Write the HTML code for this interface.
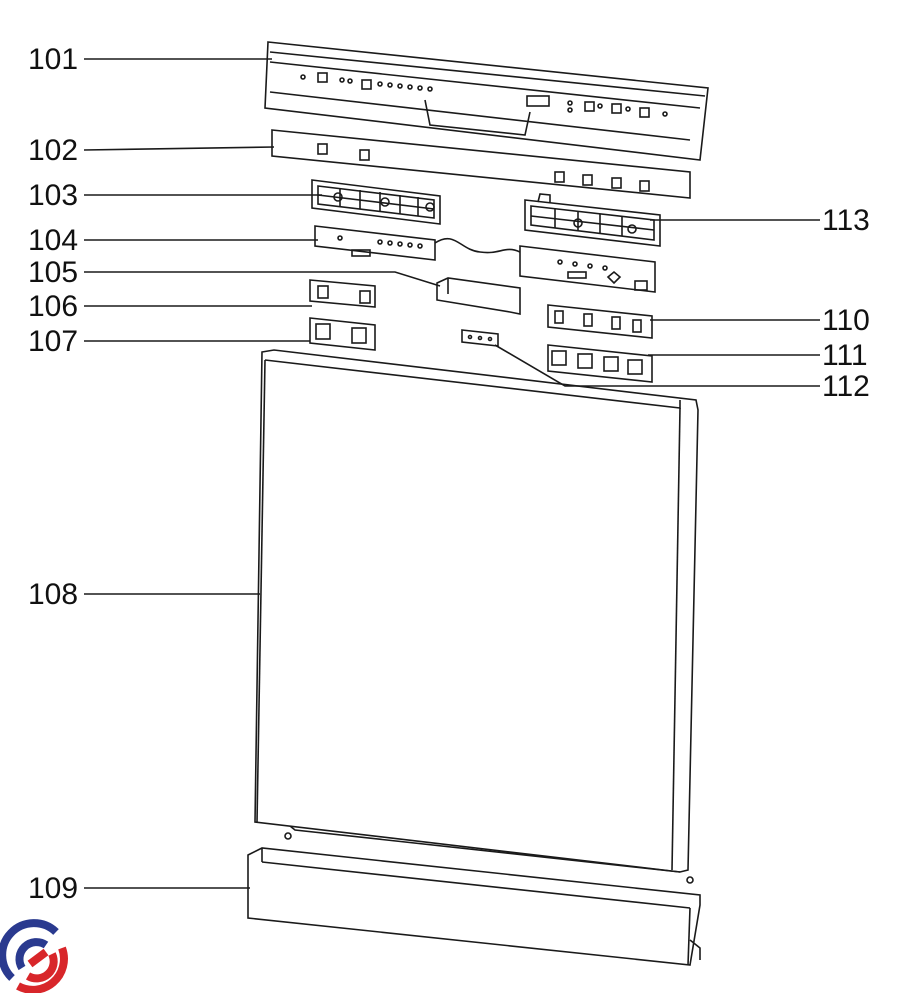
<!DOCTYPE html>
<html><head><meta charset="utf-8"><style>
html,body{margin:0;padding:0;background:#fff;}
svg{display:block;}
text{font-family:"Liberation Sans",sans-serif;font-size:30px;fill:#111;}
</style></head><body>
<svg width="897" height="993" viewBox="0 0 897 993" xmlns="http://www.w3.org/2000/svg">
<g stroke="#1a1a1a" stroke-width="1.6" fill="none">
<line x1="84" y1="59" x2="272" y2="59"/>
<line x1="84" y1="150" x2="274" y2="147"/>
<line x1="84" y1="195" x2="322" y2="195"/>
<line x1="84" y1="240" x2="318" y2="240"/>
<polyline points="84,272 395,272 440,286"/>
<line x1="84" y1="306" x2="312" y2="306"/>
<line x1="84" y1="341" x2="310" y2="341"/>
<line x1="84" y1="594" x2="260" y2="594"/>
<line x1="84" y1="888" x2="250" y2="888"/>
<line x1="820" y1="220" x2="650" y2="220"/>
<line x1="820" y1="320" x2="650" y2="320"/>
<line x1="820" y1="355" x2="648" y2="355"/>
<polyline points="820,386 565,386 495,345"/>

<polygon points="268,42 708,88 700,160 265,108"/>
<polyline points="270,52 705,96"/>
<polyline points="270,62 700,108"/>
<polyline points="270,92 690,140"/>
<polyline points="425,100 430,125 525,135 530,112"/>
<rect x="318" y="73" width="9" height="9"/><rect x="362" y="80" width="9" height="9"/>
<rect x="527" y="96" width="22" height="10"/><rect x="585" y="102" width="9" height="9"/>
<rect x="612" y="104" width="9" height="9"/><rect x="640" y="108" width="9" height="9"/>
<circle cx="303" cy="77" r="2"/><circle cx="342" cy="80" r="2"/><circle cx="350" cy="81" r="2"/>
<circle cx="380" cy="84" r="2"/><circle cx="390" cy="85" r="2"/><circle cx="400" cy="86" r="2"/><circle cx="410" cy="87" r="2"/><circle cx="420" cy="88" r="2"/><circle cx="430" cy="89" r="2"/>
<circle cx="570" cy="103" r="2"/><circle cx="570" cy="110" r="2"/><circle cx="600" cy="106" r="2"/><circle cx="628" cy="109" r="2"/><circle cx="665" cy="114" r="2"/>
<polygon points="272,130 690,172 690,198 272,156"/>
<rect x="318" y="144" width="9" height="10"/><rect x="360" y="150" width="9" height="10"/>
<rect x="555" y="172" width="9" height="10"/><rect x="583" y="175" width="9" height="10"/><rect x="612" y="178" width="9" height="10"/><rect x="640" y="181" width="9" height="10"/>
<polygon points="312,180 440,196 440,224 312,208"/>
<polygon points="318,186 434,200 434,218 318,204"/>
<line x1="340" y1="188" x2="340" y2="206"/><line x1="360" y1="190" x2="360" y2="209"/><line x1="380" y1="192" x2="380" y2="211"/><line x1="400" y1="195" x2="400" y2="214"/><line x1="418" y1="197" x2="418" y2="216"/>
<line x1="318" y1="195" x2="434" y2="209"/>
<circle cx="338" cy="197" r="4"/><circle cx="385" cy="202" r="4"/><circle cx="430" cy="207" r="4"/>
<polygon points="525,200 660,215 660,246 525,230"/>
<polygon points="531,206 654,220 654,240 531,225"/>
<line x1="555" y1="209" x2="555" y2="228"/><line x1="578" y1="211" x2="578" y2="231"/><line x1="600" y1="214" x2="600" y2="233"/><line x1="622" y1="216" x2="622" y2="236"/>
<line x1="531" y1="216" x2="654" y2="230"/>
<polyline points="538,202 540,194 550,195 550,203"/>
<circle cx="578" cy="223" r="4"/><circle cx="632" cy="229" r="4"/>
<polygon points="315,226 435,240 435,260 315,246"/>
<polygon points="520,246 655,262 655,292 520,276"/>
<path d="M435,243 C455,230 460,250 480,252 C500,255 505,245 520,252"/>
<rect x="352" y="250" width="18" height="6"/><rect x="568" y="272" width="18" height="6"/>
<polygon points="608,277 614,272 620,277 614,283"/><rect x="635" y="281" width="12" height="9"/>
<circle cx="340" cy="238" r="2"/><circle cx="380" cy="242" r="2"/><circle cx="390" cy="243" r="2"/><circle cx="400" cy="244" r="2"/><circle cx="410" cy="245" r="2"/><circle cx="420" cy="246" r="2"/>
<circle cx="560" cy="262" r="2"/><circle cx="575" cy="264" r="2"/><circle cx="590" cy="266" r="2"/><circle cx="605" cy="268" r="2"/>
<polygon points="437,283 448,278 520,288 520,314 510,312 437,300"/>
<line x1="448" y1="278" x2="448" y2="294"/>
<polygon points="310,280 375,286 375,307 310,301"/>
<rect x="318" y="286" width="10" height="12"/><rect x="360" y="291" width="10" height="12"/>
<polygon points="310,318 375,325 375,350 310,343"/>
<rect x="316" y="324" width="14" height="15"/><rect x="352" y="328" width="14" height="15"/>
<polygon points="548,305 652,316 652,338 548,327"/>
<rect x="555" y="311" width="8" height="12"/><rect x="584" y="314" width="8" height="12"/><rect x="612" y="317" width="8" height="12"/><rect x="633" y="320" width="8" height="12"/>
<polygon points="548,345 652,356 652,382 548,371"/>
<rect x="552" y="351" width="14" height="14"/><rect x="578" y="354" width="14" height="14"/><rect x="604" y="357" width="14" height="14"/><rect x="628" y="360" width="14" height="14"/>
<polygon points="462,330 498,334 498,346 462,342"/>
<circle cx="470" cy="337" r="1.5"/><circle cx="480" cy="338" r="1.5"/><circle cx="490" cy="339" r="1.5"/>
<polygon points="262,352 274,350 696,400 698,410 688,870 680,872 255,822"/>
<polyline points="265,360 680,408 680,400"/>
<line x1="680" y1="408" x2="672" y2="870"/>
<line x1="265" y1="360" x2="257" y2="822"/>
<polyline points="290,826 295,830 680,872"/>
<polygon points="248,855 262,848 700,895 700,905 690,965 248,918"/>
<line x1="262" y1="848" x2="262" y2="862"/>
<line x1="262" y1="862" x2="690" y2="908"/>
<polyline points="690,908 688,965"/>
<polyline points="690,940 700,948 700,960"/>
<circle cx="288" cy="836" r="3"/><circle cx="690" cy="880" r="3"/>
</g>
<text x="28" y="69">101</text>
<text x="28" y="160">102</text>
<text x="28" y="205">103</text>
<text x="28" y="250">104</text>
<text x="28" y="282">105</text>
<text x="28" y="316">106</text>
<text x="28" y="351">107</text>
<text x="28" y="604">108</text>
<text x="28" y="898">109</text>
<text x="822" y="230">113</text>
<text x="822" y="330">110</text>
<text x="822" y="365">111</text>
<text x="822" y="396">112</text>
<g fill="none" stroke-width="8">
<path d="M12,978 A31,31 0 0 1 56,932" stroke="#2a3a8f"/>
<path d="M22,968 A17,17 0 0 1 46,945" stroke="#2a3a8f"/>
<path d="M62,948 A31,31 0 0 1 18,986" stroke="#d8262a"/>
<path d="M52,954 A17,17 0 0 1 28,976" stroke="#d8262a"/>
<path d="M30,964 L46,952" stroke="#d8262a"/>
</g>
</svg>
</body></html>
